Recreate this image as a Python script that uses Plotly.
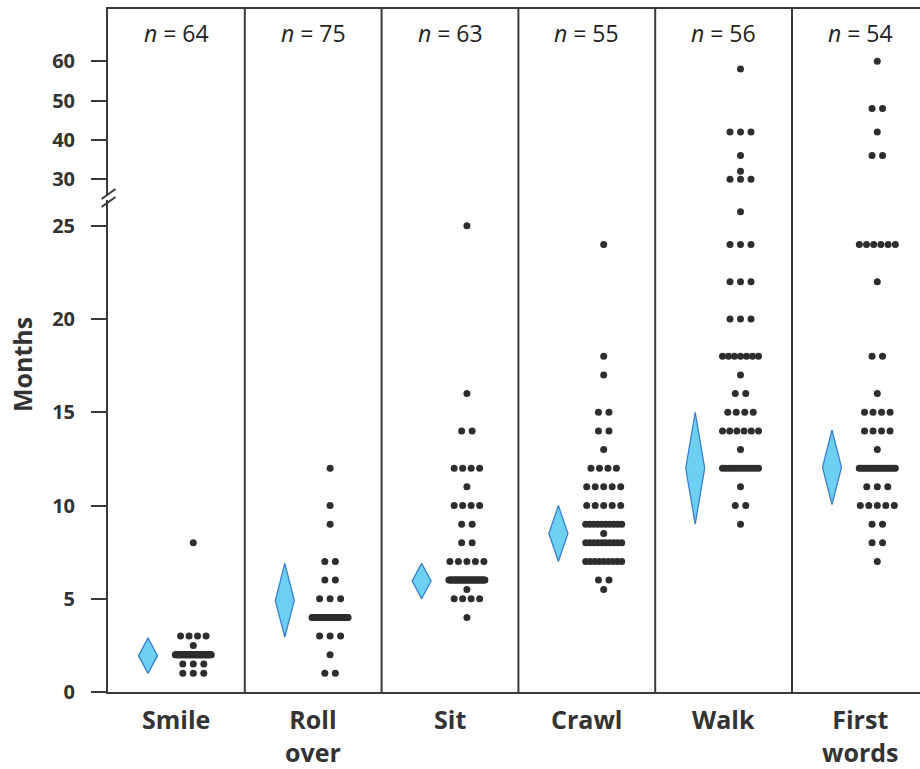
import numpy as np
import plotly.graph_objects as go

# ---------------- data ----------------
categories = ["Smile", "Roll<br>over", "Sit", "Crawl", "Walk", "First<br>words"]
n_labels = [64, 75, 63, 55, 56, 54]

smile_vals = [8, 3, 2.5, 2, 1.5, 1]
smile_counts = [1, 4, 1, 52, 3, 3]

roll_vals = [12, 10, 9, 7, 6, 5, 4, 3, 2, 1]
roll_counts = [1, 1, 1, 2, 2, 3, 59, 3, 1, 2]

sit_vals = [25, 16, 14, 12, 11, 10, 9, 8, 7, 6, 5.5, 5, 4]
sit_counts = [1, 1, 2, 4, 1, 4, 2, 2, 5, 35, 1, 4, 1]

crawl_vals = [24, 18, 17, 15, 14, 13, 12, 11, 10, 9, 8.5, 8, 7, 6, 5.5]
crawl_counts = [1, 1, 1, 2, 2, 1, 4, 5, 5, 10, 1, 10, 9, 2, 1]

walk_vals = [58, 42, 36, 32, 30, 26.5, 24, 22, 20, 18, 17, 16, 15, 14, 13, 12, 11, 10, 9]
walk_counts = [1, 3, 1, 1, 3, 1, 3, 3, 3, 7, 1, 2, 4, 6, 1, 12, 1, 2, 1]

words_vals = [60, 48, 42, 36, 24, 22, 18, 16, 15, 14, 13, 12, 11, 10, 9, 8, 7]
words_counts = [1, 2, 1, 2, 6, 1, 2, 1, 4, 4, 1, 16, 3, 5, 2, 2, 1]

mean_months = [1.95, 4.9, 5.95, 8.5, 12.0, 12.05]
ci_low = [1.0, 2.95, 5.0, 7.0, 9.0, 10.05]
ci_high = [2.9, 6.9, 6.9, 10.0, 15.0, 14.05]

tick_values = [0, 5, 10, 15, 20, 25, 30, 40, 50, 60]
tick_text = ["0", "5", "10", "15", "20", "25", "30", "40", "50", "60"]

all_vals = [smile_vals, roll_vals, sit_vals, crawl_vals, walk_vals, words_vals]
all_counts = [smile_counts, roll_counts, sit_counts, crawl_counts, walk_counts, words_counts]

# ---------------- scale (broken axis) ----------------
brk_in = [0, 25, 30, 60]
brk_out = [0, 25, 27.5, 33.82]


def fy(v):
    return np.interp(v, brk_in, brk_out)


PANEL_PX = 136.8
PLOT_W = 812
PLOT_H = 683
PX_PER_UNIT_Y = 18.65
Y_TOP = PLOT_H / PX_PER_UNIT_Y
PLOT_LEFT = 108
PLOT_BOTTOM = 692

DOT_OFF = 85.3 / PANEL_PX
DIA_OFF = 40 / PANEL_PX
DIA_HALF = 9.5 / PANEL_PX

INK = "#2e2e2e"
AXIS = "#3a3a3a"
FONT = "Open Sans"


def row_offsets(k):
    if k == 1:
        return [0.0]
    s = 10.5 if k <= 3 else 8.5
    span = min((k - 1) * s, 36.0)
    return [(-span / 2 + i * span / (k - 1)) / PANEL_PX for i in range(k)]


fig = go.Figure()

for p, (vals, counts) in enumerate(zip(all_vals, all_counts)):
    xs, ys = [], []
    for v, c in zip(vals, counts):
        for o in row_offsets(c):
            xs.append(p + DOT_OFF + o)
            ys.append(float(fy(v)))
    fig.add_trace(go.Scatter(
        x=xs, y=ys, mode="markers",
        marker=dict(size=7, color=INK, line=dict(width=0)),
        hoverinfo="skip", showlegend=False))

    xc = p + DIA_OFF
    m, lo, hi = mean_months[p], ci_low[p], ci_high[p]
    fig.add_trace(go.Scatter(
        x=[xc, xc + DIA_HALF, xc, xc - DIA_HALF, xc],
        y=[fy(lo), fy(m), fy(hi), fy(m), fy(lo)],
        mode="lines", fill="toself", fillcolor="#6DCFF2",
        line=dict(color="#3B80CF", width=1.3),
        hoverinfo="skip", showlegend=False))

shapes = []
for b in range(1, 6):
    shapes.append(dict(type="line", xref="x", yref="paper", x0=b, x1=b, y0=0, y1=1,
                       line=dict(color=AXIS, width=2)))


def px_x(px):
    return (px - PLOT_LEFT) / PLOT_W


def px_y(py):
    return (PLOT_BOTTOM - py) / PLOT_H


# axis break marks
shapes.append(dict(type="rect", xref="paper", yref="paper",
                   x0=px_x(105), x1=px_x(111), y0=px_y(200), y1=px_y(196),
                   fillcolor="white", line=dict(width=0), layer="above"))
for cy in (194, 202):
    shapes.append(dict(type="line", xref="paper", yref="paper",
                       x0=px_x(101.5), y0=px_y(cy + 5), x1=px_x(115.5), y1=px_y(cy - 5),
                       line=dict(color=AXIS, width=2), layer="above"))

annotations = []
for p, (cat, n) in enumerate(zip(categories, n_labels)):
    annotations.append(dict(x=p + 0.5, y=0, xref="x", yref="paper", yanchor="top",
                            yshift=-8, text=cat, showarrow=False,
                            font=dict(family=FONT, size=25, color="#333333", weight="bold")))
    annotations.append(dict(x=p + 0.5, y=px_y(33), xref="x", yref="paper", yanchor="middle",
                            text=f"<i>n</i> = {n}", showarrow=False,
                            font=dict(family=FONT, size=23, color="#222222")))

annotations.append(dict(x=px_x(22), y=px_y(365), xref="paper", yref="paper",
                        xanchor="center", yanchor="middle",
                        text="Months", textangle=-90, showarrow=False,
                        font=dict(family=FONT, size=25, color="#333333", weight="bold")))

fig.update_layout(
    width=920, height=769,
    margin=dict(l=PLOT_LEFT, r=0, t=9, b=769 - PLOT_BOTTOM, pad=0),
    paper_bgcolor="white", plot_bgcolor="white",
    shapes=shapes, annotations=annotations,
    xaxis=dict(range=[0, PLOT_W / PANEL_PX], showgrid=False, zeroline=False,
               showticklabels=False, ticks="", showline=True, mirror=True,
               linecolor=AXIS, linewidth=2, fixedrange=True),
    yaxis=dict(range=[0, Y_TOP], showgrid=False, zeroline=False,
               tickvals=[float(fy(t)) for t in tick_values], ticktext=tick_text,
               ticks="outside", ticklen=15, tickwidth=2, tickcolor=AXIS,
               ticklabelstandoff=12,
               tickfont=dict(family=FONT, size=20, color="#333333", weight="bold"),
               showline=True, linecolor=AXIS, linewidth=2, fixedrange=True),
)

fig.write_html("out.html", config={"displayModeBar": False},
               post_script="document.body.style.margin='0';"
                           "document.body.style.overflow='hidden';")
